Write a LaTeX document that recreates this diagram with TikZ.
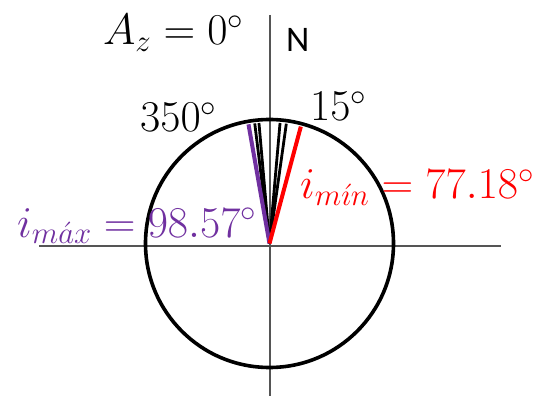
\documentclass[tikz,border=0pt]{standalone}
\usepackage{fix-cm}
\usepackage{fontspec}
\usepackage{xcolor}
\newfontfamily\labelsans{Carlito}
\definecolor{maxc}{HTML}{7030A0}
\definecolor{minc}{HTML}{FF0000}
\definecolor{axisc}{HTML}{555555}

\begin{document}
\begin{tikzpicture}[
    x=1pt, y=-1pt,
    axisline/.style={draw=axisc, line width=1.5pt},
    ring/.style={draw, line width=3.6pt},
    ray/.style={line width=2.8pt},
    lbl/.style={inner sep=0pt, anchor=base west,
      font=\fontsize{44}{50}\selectfont}
  ]
  \useasboundingbox[fill=white] (0,0) rectangle (542,396);

  % --- axes
  \coordinate (west) at (39,246);
  \coordinate (east) at (501,246);
  \coordinate (top) at (270,15);
  \coordinate (bottom) at (270,396);
  \draw[axisline] (west) -- (east);
  \draw[axisline] (top) -- (bottom);

  % --- circle
  \coordinate (C) at (269.5,243.5);
  \draw[ring] (C) circle[radius=124pt];

  % --- rays (angle = azimuth - 90)
  \path (C) ++(263:121) coordinate (t353);
  \path (C) ++(265:121) coordinate (t355);
  \path (C) ++(-85:121) coordinate (t5);
  \path (C) ++(-82:121) coordinate (t8);
  \path (C) ++(260:121) coordinate (tmax);
  \path (C) ++(-75:121) coordinate (tmin);
  \draw[ray] (C) -- (t353);
  \draw[ray] (C) -- (t355);
  \draw[ray] (C) -- (t5);
  \draw[ray] (C) -- (t8);
  \draw[ray, draw=maxc, line width=4pt] (C) -- (tmax);
  \draw[ray, draw=minc, line width=4pt] (C) -- (tmin);

  % --- labels
  \node[lbl] (azlbl) at (103,45) {$A_z = 0^\circ$};
  \node[lbl, font=\labelsans\fontsize{36}{40}\selectfont] (north) at (286,52) {N};
  \node[lbl] (deg350) at (140,132) {$350^\circ$};
  \node[lbl] (deg15) at (310,121) {$15^\circ$};
  \node[lbl, text=minc] (imin) at (300,199) {$i_{m\acute{\imath}n} = 77.18^\circ$};
  \node[lbl, text=maxc] (imax) at (17,237) {$i_{m\acute{a}x} = 98.57^\circ$};

\end{tikzpicture}
\end{document}
